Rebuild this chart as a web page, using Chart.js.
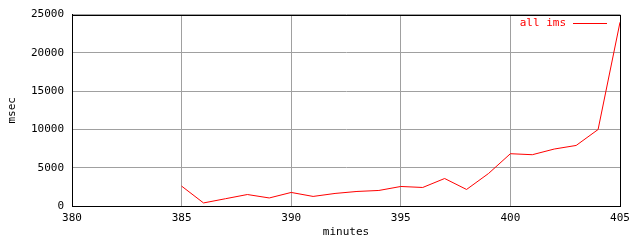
<!DOCTYPE html>
<html>
<head>
<meta charset="utf-8">
<script src="https://cdn.jsdelivr.net/npm/chart.js@4/dist/chart.umd.min.js"></script>
<style>
  html, body { margin: 0; padding: 0; background: #fff; }
  #wrap { width: 640px; height: 240px; }
</style>
</head>
<body>
<div id="wrap"><canvas id="lineChart" width="640" height="240"></canvas></div>
<script>
// valores
const minutes = [385, 386, 387, 388, 389, 390, 391, 392, 393, 394, 395, 396, 397, 398, 399, 400, 401, 402, 403, 404, 405];
const allIms = [2600, 400, 950, 1500, 1050, 1770, 1250, 1640, 1900, 2030, 2550, 2420, 3590, 2160, 4240, 6830, 6700, 7440, 7910, 9990, 24000];
const seriesLabel = "all ims";

const font = { family: "'DejaVu Sans Mono', monospace", size: 11 };

const frameAndKey = {
  id: "frameAndKey",
  afterDraw(chart) {
    const ctx = chart.ctx;
    const a = chart.chartArea;
    ctx.save();
    ctx.strokeStyle = "#000";
    ctx.lineWidth = 1;
    ctx.strokeRect(Math.round(a.left) + 0.5, Math.round(a.top) + 0.5,
      Math.round(a.right - a.left), Math.round(a.bottom - a.top));
    ctx.font = "11px 'DejaVu Sans Mono', monospace";
    ctx.fillStyle = "#ff0000";
    ctx.textAlign = "right";
    ctx.textBaseline = "middle";
    ctx.fillText(chart.data.datasets[0].label, 566, 23);
    ctx.strokeStyle = "#ff0000";
    ctx.beginPath();
    ctx.moveTo(573, 23.5);
    ctx.lineTo(607, 23.5);
    ctx.stroke();
    ctx.restore();
  },
};

const ctxLine = document.getElementById("lineChart").getContext("2d");
new Chart(ctxLine, {
  type: "line",
  data: {
    labels: minutes,
    datasets: [
      {
        label: seriesLabel,
        data: minutes.map((m, i) => ({ x: m, y: allIms[i] })),
        borderColor: "#ff0000",
        borderWidth: 1,
        pointRadius: 0,
        tension: 0,
        fill: false,
      },
    ],
  },
  options: {
    responsive: false,
    animation: false,
    layout: { padding: { top: 13, right: 20, left: 0, bottom: 0 } },
    plugins: { legend: { display: false }, tooltip: { enabled: false } },
    scales: {
      x: {
        type: "linear",
        min: 380,
        max: 405,
        afterFit: (s) => { s.height = 34; },
        ticks: { stepSize: 5, color: "#000", font: font, padding: 6, maxRotation: 0, callback: (v) => String(v) },
        grid: { color: "#a0a0a0", drawTicks: false },
        border: { color: "#000" },
        title: { display: true, text: "minutes", color: "#000", font: font, padding: { top: 0, bottom: 1 } },
      },
      y: {
        min: 0,
        max: 25000,
        afterFit: (s) => { s.width = 72; },
        ticks: { stepSize: 5000, color: "#000", font: font, padding: 8, callback: (v) => String(v) },
        grid: { color: "#a0a0a0", drawTicks: false },
        border: { color: "#000" },
        title: { display: true, text: "msec", color: "#000", font: font, padding: { top: 6, bottom: 0 } },
      },
    },
  },
  plugins: [frameAndKey],
});
</script>
</body>
</html>
